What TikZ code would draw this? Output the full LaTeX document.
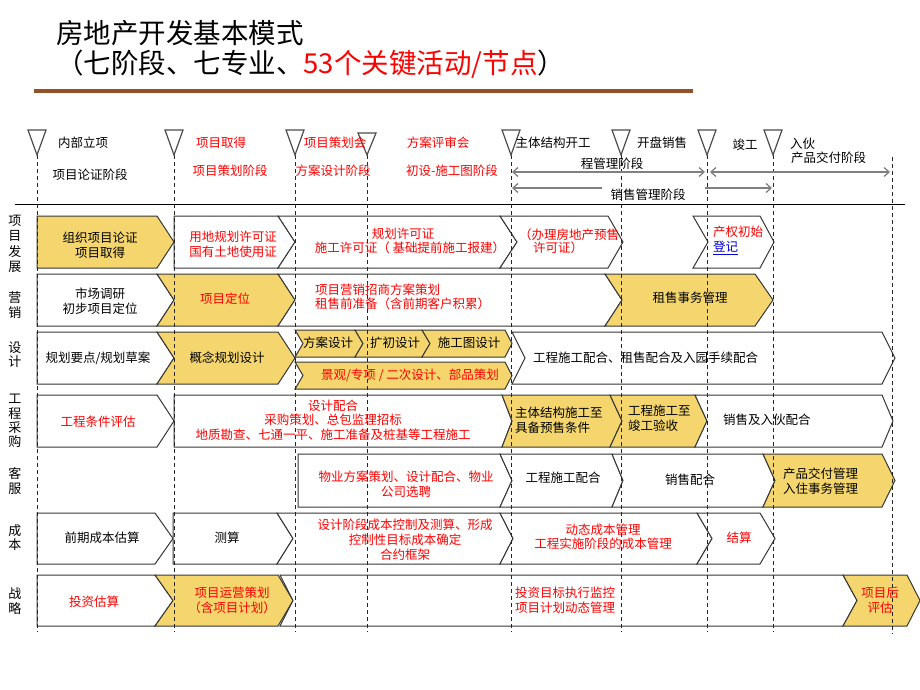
\documentclass[tikz,border=0pt]{standalone}
\usepackage{fontspec}
\setmainfont{Noto Sans CJK SC}
\usetikzlibrary{arrows.meta}
\definecolor{ylw}{RGB}{245,214,110}
\definecolor{brn}{RGB}{150,80,40}
\definecolor{bdr}{RGB}{55,55,55}
\definecolor{lnk}{RGB}{0,0,230}
% #1 style, #2 x left, #3 left notch depth, #4 x right corner, #5 point depth, #6 y top, #7 y bottom
\newcommand{\chevbox}[7]{%
  \draw[#1] (#2,#6) -- (#4,#6) -- ({#4+#5},{(#6+#7)/2}) -- (#4,#7) -- (#2,#7) -- ({#2+#3},{(#6+#7)/2}) -- cycle;}
\begin{document}
\begin{tikzpicture}[x=1pt,y=-1pt,
  every node/.style={font=\fontsize{12.5}{15}\selectfont, inner sep=0pt, align=center},
  wbox/.style={draw=bdr, line width=1pt, fill=white, line join=miter},
  ybox/.style={draw=bdr, line width=1pt, fill=ylw, line join=miter},
  tri/.style={draw=black!70, line width=1.2pt, fill=white},
  vdash/.style={draw=black!85, line width=0.8pt, dash pattern=on 4pt off 3pt},
  harr/.style={draw=black!50, line width=1.3pt},
  rt/.style={text=red},
  lab/.style={font=\fontsize{13}{#1}\selectfont},
  ttl/.style={anchor=west, font=\fontsize{27.5}{32}\selectfont, align=left}
]
\fill[white] (0,0) rectangle (920,690);
\useasboundingbox (0,0) rectangle (920,690);

% title
\node[ttl] (t1) at (56,33) {房地产开发基本模式};
\node[ttl] (t2) at (56,64) {（七阶段、七专业、\textcolor{red}{53个关键活动/节点}）};
\draw[brn, line width=3.5pt] (34,91) -- (693,91);

% header line
\draw[black, line width=0.8pt] (15,204) -- (905,204);

% ---------- boxes ----------
% row 1
\chevbox{ybox}{37}{0}{157}{17}{216}{268}
\chevbox{wbox}{174}{0}{278}{17}{216}{268}
\chevbox{wbox}{278}{17}{500}{17}{216}{268}
\chevbox{wbox}{500}{17}{608}{15}{216}{268}
\chevbox{wbox}{693}{15}{760}{14}{216}{268}
% row 2
\chevbox{wbox}{37}{0}{157}{17}{274}{326}
\chevbox{ybox}{157}{17}{278}{17}{274}{326}
\chevbox{wbox}{278}{17}{605}{17}{274}{326}
\chevbox{ybox}{605}{17}{755}{18}{274}{326}
% row 3
\chevbox{wbox}{37}{0}{157}{17}{332}{384}
\chevbox{ybox}{157}{17}{278}{17}{332}{384}
\chevbox{ybox}{295}{8}{355}{8}{330}{357}
\chevbox{ybox}{355}{8}{422}{8}{330}{357}
\chevbox{ybox}{422}{8}{505}{7}{330}{357}
\chevbox{ybox}{295}{8}{505}{7}{362}{389}
\chevbox{wbox}{512}{13}{882}{13}{332}{384}
% row 4
\chevbox{wbox}{37}{0}{157}{17}{395}{447}
\chevbox{wbox}{174}{0}{502}{10}{395}{447}
\chevbox{ybox}{502}{10}{610}{12}{395}{447}
\chevbox{ybox}{610}{12}{695}{12}{395}{447}
\chevbox{wbox}{695}{12}{882}{11}{395}{447}
% row 5
\chevbox{wbox}{298}{0}{500}{12}{454}{507}
\chevbox{wbox}{500}{12}{612}{11}{454}{507}
\chevbox{wbox}{612}{11}{763}{12}{454}{507}
\chevbox{ybox}{763}{12}{882}{13}{454}{507}
% row 6
\chevbox{wbox}{37}{0}{155}{18}{513}{564}
\chevbox{wbox}{173}{0}{277}{16}{513}{564}
\chevbox{wbox}{277}{16}{500}{13}{513}{564}
\chevbox{wbox}{500}{13}{697}{15}{513}{564}
\chevbox{wbox}{697}{15}{760}{15}{513}{564}
% row 7
\chevbox{wbox}{37}{0}{155}{18}{575}{626}
\chevbox{ybox}{155}{18}{278}{15}{575}{626}
\chevbox{wbox}{280}{13}{843}{14}{575}{626}
\chevbox{ybox}{843}{14}{907}{13}{575}{626}

% ---------- milestone triangles and dashed lines ----------
\foreach \mx/\mt in {37/130,174/130,295/130,367/133,511/130,621/130,707/130,773/130}{
  \draw[vdash] (\mx,155) -- (\mx,632);
  \draw[tri] ({\mx-9},\mt) -- ({\mx+9},\mt) -- (\mx,155) -- cycle;
}
\draw[vdash] (892,157) -- (892,634);

% ---------- phase arrows ----------
\coordinate (a1) at (512,172);
\coordinate (a2) at (705,172);
\coordinate (a3) at (710,172);
\coordinate (a4) at (890,172);
\coordinate (a5) at (512,188);
\coordinate (a6) at (602,188);
\coordinate (a7) at (705,188);
\coordinate (a8) at (772,188);
\draw[harr, {Straight Barb[length=5pt,width=9pt]}-{Straight Barb[length=5pt,width=9pt]}] (a1) -- (a2);
\draw[harr, {Straight Barb[length=5pt,width=9pt]}-{Straight Barb[length=5pt,width=9pt]}] (a3) -- (a4);
\draw[harr, {Straight Barb[length=5pt,width=9pt]}-] (a5) -- (a6);
\draw[harr, -{Straight Barb[length=5pt,width=9pt]}] (a7) -- (a8);

% ---------- header texts ----------
\node (h1) at (83,143) {内部立项};
\node (h2) at (90,175) {项目论证阶段};
\node[rt] (h3) at (221,143) {项目取得};
\node[rt] (h4) at (230,171) {项目策划阶段};
\node[rt] (h5) at (335,143) {项目策划会};
\node[rt] (h6) at (333,171) {方案设计阶段};
\node[rt] (h7) at (438,143) {方案评审会};
\node[rt] (h8) at (452,171) {初设-施工图阶段};
\node (h9) at (553,143) {主体结构开工};
\node (h10) at (662,143) {开盘销售};
\node (h11) at (745,145) {竣工};
\node[anchor=west] (h12) at (790,144) {入伙};
\node[anchor=west] (h13) at (791,158) {产品交付阶段};
\node (h14) at (612,164) {程管理阶段};
\node (h15) at (648,195) {销售管理阶段};

% ---------- row labels ----------
\node[lab=15.5] (l1) at (15,244) {项\\目\\发\\展};
\node[lab=15] (l2) at (15,305) {营\\销};
\node[lab=14] (l3) at (15,355) {设\\计};
\node[lab=14.3] (l4) at (15,421) {工\\程\\采\\购};
\node[lab=15] (l5) at (15,481) {客\\服};
\node[lab=14] (l6) at (15,538) {成\\本};
\node[lab=15] (l7) at (15,601) {战\\略};

% ---------- box texts ----------
% row 1
\node (r1a) at (100,245) {组织项目论证\\项目取得};
\node[rt] (r1b) at (233,244) {用地规划许可证\\国有土地使用证};
\node[rt] (r1c) at (403,234) {规划许可证};
\node[rt] (r1d) at (410,248) {施工许可证（ 基础提前施工报建）};
\node[rt, anchor=west] (r1e) at (519,235) {（办理房地产预售};
\node[rt, anchor=west] (r1f) at (533,248) {许可证）};
\node[rt, anchor=west] (r1g) at (713,232) {产权初始};
\node[anchor=west, text=lnk] (r1h) at (713,248) {\underline{登记}};
% row 2
\node (r2a) at (100,301) {市场调研\\初步项目定位};
\node[rt] (r2b) at (225,299) {项目定位};
\node[rt, anchor=west, align=left, font=\fontsize{12.5}{14}\selectfont] (r2c) at (315,297) {项目营销招商方案策划\\租售前准备（含前期客户积累）};
\node (r2d) at (690,298) {租售事务管理};
% row 3
\node (r3a) at (98,358) {规划要点/规划草案};
\node (r3b) at (227,358) {概念规划设计};
\node (r3c) at (328,343) {方案设计};
\node (r3d) at (395,343) {扩初设计};
\node (r3e) at (469,343) {施工图设计};
\node[rt] (r3f) at (410,375) {景观/专项 / 二次设计、部品策划};
\node[anchor=west] (r3g) at (533,358) {工程施工配合、租售配合及入园手续配合};
% row 4
\node[rt] (r4a) at (98,422) {工程条件评估};
\node[rt, font=\fontsize{12.5}{14.5}\selectfont] (r4b) at (333,420) {设计配合\\采购策划、总包监理招标\\地质勘查、七通一平、施工准备及桩基等工程施工};
\node[anchor=west, align=left] (r4c) at (515,420) {主体结构施工至\\具备预售条件};
\node[anchor=west, align=left] (r4d) at (628,418) {工程施工至\\竣工验收};
\node[anchor=west] (r4e) at (723,420) {销售及入伙配合};
% row 5
\node[rt] (r5a) at (406,484) {物业方案策划、设计配合、物业\\公司选聘};
\node (r5b) at (563,478) {工程施工配合};
\node (r5c) at (690,480) {销售配合};
\node[anchor=west, align=left] (r5d) at (783,481) {产品交付管理\\入住事务管理};
% row 6
\node (r6a) at (102,538) {前期成本估算};
\node (r6b) at (227,538) {测算};
\node[rt] (r6c) at (405,540) {设计阶段成本控制及测算、形成\\控制性目标成本确定\\合约框架};
\node[rt, font=\fontsize{12.5}{14}\selectfont] (r6d) at (603,537) {动态成本管理\\工程实施阶段的成本管理};
\node[rt] (r6e) at (739,538) {结算};
% row 7
\node[rt] (r7a) at (94,602) {投资估算};
\node[rt] (r7b) at (232,600) {项目运营策划\\（含项目计划）};
\node[rt, anchor=west, align=left] (r7c) at (515,600) {投资目标执行监控\\项目计划动态管理};
\node[rt] (r7d) at (880,600) {项目后\\评估};
\end{tikzpicture}
\end{document}
